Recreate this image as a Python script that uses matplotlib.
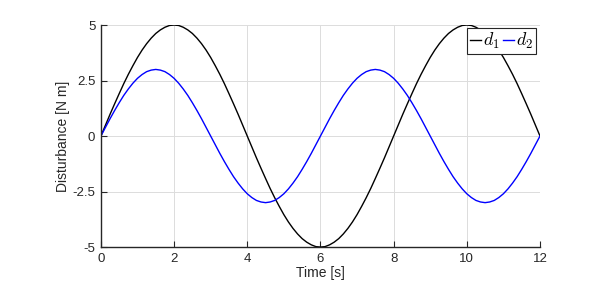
import matplotlib
matplotlib.use("Agg")
import matplotlib.pyplot as plt

# time axis [s], step 0.125
t = [i * 0.125 for i in range(97)]

# d1: amplitude 5, peak at 2 s and 10 s, trough at 6 s
d1 = [0, 0.49, 0.98, 1.45, 1.91, 2.36, 2.78, 3.17, 3.54, 3.87, 4.16, 4.41, 4.62, 4.78, 4.90, 4.98,
      5.00, 4.98, 4.90, 4.78, 4.62, 4.41, 4.16, 3.87, 3.54, 3.17, 2.78, 2.36, 1.91, 1.45, 0.98, 0.49,
      0, -0.49, -0.98, -1.45, -1.91, -2.36, -2.78, -3.17, -3.54, -3.87, -4.16, -4.41, -4.62, -4.78, -4.90, -4.98,
      -5.00, -4.98, -4.90, -4.78, -4.62, -4.41, -4.16, -3.87, -3.54, -3.17, -2.78, -2.36, -1.91, -1.45, -0.98, -0.49,
      0, 0.49, 0.98, 1.45, 1.91, 2.36, 2.78, 3.17, 3.54, 3.87, 4.16, 4.41, 4.62, 4.78, 4.90, 4.98,
      5.00, 4.98, 4.90, 4.78, 4.62, 4.41, 4.16, 3.87, 3.54, 3.17, 2.78, 2.36, 1.91, 1.45, 0.98, 0.49, 0]

# d2: amplitude 3, peaks at 1.5 s and 7.5 s, troughs at 4.5 s and 10.5 s
d2 = [0, 0.39, 0.78, 1.15, 1.50, 1.83, 2.12, 2.38, 2.60, 2.77, 2.90, 2.97,
      3.00, 2.97, 2.90, 2.77, 2.60, 2.38, 2.12, 1.83, 1.50, 1.15, 0.78, 0.39,
      0, -0.39, -0.78, -1.15, -1.50, -1.83, -2.12, -2.38, -2.60, -2.77, -2.90, -2.97,
      -3.00, -2.97, -2.90, -2.77, -2.60, -2.38, -2.12, -1.83, -1.50, -1.15, -0.78, -0.39,
      0, 0.39, 0.78, 1.15, 1.50, 1.83, 2.12, 2.38, 2.60, 2.77, 2.90, 2.97,
      3.00, 2.97, 2.90, 2.77, 2.60, 2.38, 2.12, 1.83, 1.50, 1.15, 0.78, 0.39,
      0, -0.39, -0.78, -1.15, -1.50, -1.83, -2.12, -2.38, -2.60, -2.77, -2.90, -2.97,
      -3.00, -2.97, -2.90, -2.77, -2.60, -2.38, -2.12, -1.83, -1.50, -1.15, -0.78, -0.39, 0]

xticks = [0, 2, 4, 6, 8, 10, 12]
yticks = [-5, -2.5, 0, 2.5, 5]
ytick_labels = ["-5", "-2.5", "0", "2.5", "5"]

plt.rcParams["font.family"] = ["Liberation Sans", "DejaVu Sans"]
plt.rcParams["mathtext.fontset"] = "cm"

fig = plt.figure(figsize=(5.97, 2.91), dpi=100)
ax = fig.add_axes([0.169, 0.151, 0.7355, 0.763])

ax.plot(t, d1, color="black", lw=1.0, label="$d_1$")
ax.plot(t, d2, color="blue", lw=1.0, label="$d_2$")

ax.set_xlim(0, 12)
ax.set_ylim(-5, 5)
ax.set_xticks(xticks)
ax.set_yticks(yticks)
ax.set_yticklabels(ytick_labels)
ax.grid(True, color="#dcdcdc", lw=0.7)
ax.set_axisbelow(True)
for s in ["top", "right"]:
    ax.spines[s].set_visible(False)
for s in ["left", "bottom"]:
    ax.spines[s].set_color("#262626")
    ax.spines[s].set_linewidth(1.0)
ax.tick_params(direction="in", length=4, width=0.8, color="#262626",
               labelsize=9.5, labelcolor="#262626", pad=4)

ax.set_xlabel("Time [s]", fontsize=10, color="#262626", labelpad=1)
ax.set_ylabel("Disturbance [N m]", fontsize=10, color="#262626", labelpad=2)

leg = ax.legend(loc="upper right", bbox_to_anchor=(0.99, 0.985), ncol=2,
                fontsize=13, frameon=True, fancybox=False, framealpha=1,
                handlelength=0.6, handletextpad=0.1, columnspacing=0.2,
                borderpad=0.15, borderaxespad=0)
leg.get_frame().set_edgecolor("#262626")
leg.get_frame().set_linewidth(0.8)

fig.savefig("out.png", dpi=100)
